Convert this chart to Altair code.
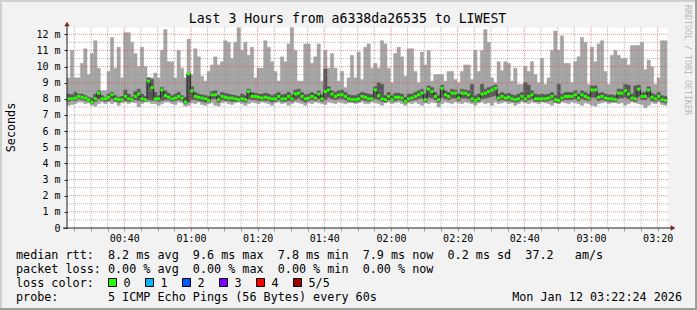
import altair as alt
import pandas as pd

FONT = "DejaVu Sans Mono"

# ---- data (milliseconds), one value per minute step ----
start_minute = 22.8          # minutes after 00:00 of the first step
step_minutes = 1.0

max_ms = [
    9.3, 11.0, 9.3, 9.3, 10.2, 11.1, 9.5, 10.8, 11.6, 9.9, 8.5, 8.5, 9.7, 11.8, 9.9, 11.2, 9.3, 12.1, 12.1, 11.5, 10.8, 10.0, 11.2, 10.0, 9.3, 9.3, 9.6, 9.3, 11.0, 12.3,
    10.3, 10.3, 9.3, 11.0, 9.9, 9.3, 11.7, 9.5, 11.1, 10.6, 9.4, 9.1, 9.7, 10.1, 10.6, 10.1, 10.3, 11.6, 11.5, 10.5, 11.5, 12.4, 11.0, 11.5, 10.7, 11.2, 9.3, 9.9, 9.9, 11.6,
    11.2, 10.3, 9.7, 9.1, 10.6, 10.3, 11.4, 12.4, 11.0, 9.1, 9.1, 11.4, 11.4, 10.2, 10.6, 11.4, 9.1, 11.0, 9.9, 10.8, 9.9, 9.1, 9.7, 8.7, 9.3, 10.7, 9.3, 10.9, 9.2, 11.2,
    11.4, 9.9, 10.2, 9.9, 11.6, 11.4, 9.9, 9.0, 10.8, 11.2, 10.6, 9.4, 11.1, 11.1, 9.7, 9.0, 10.9, 10.1, 11.0, 9.1, 9.5, 9.5, 9.5, 9.1, 9.7, 9.7, 9.2, 9.0, 9.7, 10.1,
    10.1, 9.2, 11.0, 9.7, 11.0, 12.3, 11.5, 9.3, 9.0, 10.3, 9.75, 10.3, 10.2, 9.1, 9.9, 8.9, 8.9, 10.0, 9.7, 10.3, 9.5, 9.0, 10.5, 8.9, 9.3, 11.0, 12.2, 11.0, 11.9, 10.2,
    10.2, 9.0, 10.3, 10.6, 11.8, 11.5, 8.9, 11.2, 10.3, 11.4, 11.6, 9.7, 8.9, 10.7, 11.0, 10.7, 10.5, 10.5, 10.1, 11.3, 11.3, 11.3, 11.5, 9.8, 10.4, 10.0, 8.9, 9.3, 11.6, 11.6,
]
p4_ms = [
    8.3, 8.25, 8.4, 8.3, 8.3, 8.2, 8.1, 8.05, 8.3, 8.5, 8.2, 8.1, 8.3, 8.4, 8.2, 8.1, 8.15, 8.55, 8.3, 8.1, 8.45, 8.6, 8.3, 8.15, 9.3, 9.2, 8.4, 8.2, 8.7, 8.5,
    8.35, 8.2, 8.3, 8.4, 8.2, 8.1, 9.6, 8.75, 8.4, 8.3, 8.25, 8.2, 8.15, 8.45, 8.5, 8.2, 8.4, 8.35, 8.3, 8.25, 8.2, 8.15, 8.3, 8.2, 8.6, 8.4, 8.35, 8.3, 8.3, 8.35,
    8.3, 8.2, 8.3, 8.4, 8.25, 8.3, 8.4, 8.25, 8.55, 8.6, 8.4, 8.25, 8.3, 8.4, 8.3, 8.5, 8.25, 9.85, 8.75, 8.5, 8.4, 8.5, 8.55, 8.4, 8.25, 8.2, 8.2, 8.3, 8.4, 8.35,
    8.3, 8.25, 8.75, 9.0, 8.9, 8.2, 8.4, 8.2, 8.35, 8.35, 8.3, 8.1, 8.3, 8.3, 8.4, 8.5, 8.6, 8.3, 8.8, 8.7, 8.4, 8.2, 8.85, 8.5, 8.4, 8.6, 8.55, 8.3, 8.6, 8.55,
    8.5, 8.9, 8.2, 8.3, 8.9, 8.6, 8.7, 8.75, 8.85, 8.3, 8.4, 8.3, 8.35, 8.25, 8.2, 8.3, 8.4, 9.0, 8.85, 8.5, 8.3, 8.25, 8.3, 8.25, 8.3, 8.4, 8.2, 8.9, 8.3, 8.4,
    8.4, 8.4, 8.5, 8.3, 8.5, 8.4, 8.3, 8.8, 8.8, 8.35, 8.4, 8.3, 8.25, 8.25, 8.2, 8.6, 8.6, 8.9, 8.85, 8.3, 8.8, 8.85, 8.4, 8.4, 8.75, 8.35, 8.25, 8.4, 8.2, 8.15,
]
median_ms = [
    8.0, 8.0, 8.05, 8.15, 8.1, 8.05, 7.95, 7.8, 8.0, 8.35, 8.0, 8.0, 8.1, 8.25, 8.0, 7.95, 7.95, 8.15, 8.0, 7.95, 8.15, 8.3, 8.0, 7.95, 9.1, 8.7, 8.0, 8.0, 8.55, 8.2,
    8.1, 8.0, 8.05, 8.15, 8.05, 7.8, 9.55, 8.5, 8.15, 8.1, 8.05, 8.0, 7.9, 8.25, 8.25, 7.95, 8.15, 8.1, 8.05, 8.05, 8.0, 7.95, 8.0, 7.95, 8.45, 8.15, 8.15, 8.1, 8.05, 8.1,
    8.05, 8.0, 8.0, 8.15, 8.0, 8.0, 8.15, 8.0, 8.3, 8.35, 8.15, 8.0, 8.05, 8.15, 8.05, 8.3, 8.0, 8.45, 8.55, 8.3, 8.15, 8.25, 8.25, 8.15, 8.0, 7.95, 7.95, 8.0, 8.15, 8.1,
    8.0, 8.0, 8.55, 8.2, 8.0, 7.95, 8.15, 7.95, 8.1, 8.1, 8.05, 7.85, 8.0, 8.05, 8.15, 8.25, 8.35, 7.95, 8.6, 8.45, 8.15, 7.95, 8.65, 8.25, 8.15, 8.35, 8.35, 8.05, 8.35, 8.35,
    8.25, 8.0, 7.9, 8.0, 8.3, 8.35, 8.45, 8.55, 8.65, 8.05, 8.15, 8.05, 8.1, 8.0, 7.95, 8.0, 8.15, 8.0, 8.15, 8.25, 8.0, 8.0, 8.0, 8.0, 8.05, 8.15, 7.95, 7.9, 8.05, 8.15,
    8.15, 8.15, 8.25, 8.05, 8.25, 8.15, 8.05, 8.55, 8.55, 8.1, 8.15, 8.05, 8.0, 8.0, 7.95, 8.35, 8.35, 8.5, 8.3, 8.05, 8.0, 8.6, 8.15, 8.15, 8.55, 8.1, 8.0, 8.15, 7.95, 7.9,
]
p2_ms = [
    7.85, 7.9, 7.9, 8.0, 7.95, 7.9, 7.85, 7.7, 7.85, 8.0, 7.9, 7.85, 7.9, 8.0, 7.85, 7.8, 7.85, 7.9, 7.85, 7.85, 7.95, 7.9, 7.85, 7.85, 7.95, 7.9, 7.9, 7.85, 7.9, 7.95,
    7.95, 7.85, 7.9, 7.95, 7.9, 7.7, 7.8, 7.95, 7.95, 7.9, 7.85, 7.8, 7.8, 8.0, 8.0, 7.8, 7.95, 7.9, 7.9, 7.85, 7.85, 7.85, 7.85, 7.8, 8.0, 7.95, 7.95, 7.9, 7.9, 7.9,
    7.9, 7.8, 7.85, 7.95, 7.85, 7.85, 7.9, 7.85, 7.95, 8.05, 7.9, 7.8, 7.9, 7.95, 7.9, 8.0, 7.85, 7.95, 8.1, 8.0, 7.95, 8.0, 8.0, 7.95, 7.85, 7.8, 7.8, 7.85, 7.95, 7.9,
    7.85, 7.9, 8.0, 7.95, 7.85, 7.8, 7.95, 7.85, 7.9, 7.95, 7.9, 7.75, 7.85, 7.9, 7.95, 8.0, 8.05, 7.8, 8.1, 8.05, 7.95, 7.8, 8.1, 8.0, 7.95, 8.05, 8.05, 7.9, 8.05, 8.05,
    8.0, 7.85, 7.8, 7.85, 8.0, 8.05, 8.1, 8.15, 8.2, 7.9, 7.95, 7.9, 7.9, 7.85, 7.8, 7.85, 7.95, 7.85, 7.95, 8.0, 7.85, 7.85, 7.85, 7.85, 7.9, 7.95, 7.8, 7.75, 7.9, 7.95,
    7.95, 7.95, 8.0, 7.9, 8.0, 7.95, 7.9, 8.1, 8.1, 7.9, 7.95, 7.9, 7.85, 7.85, 7.8, 8.05, 8.05, 8.1, 8.0, 7.9, 7.85, 8.15, 7.95, 7.95, 8.1, 7.9, 7.85, 7.95, 7.8, 7.75,
]
min_ms = [
    7.6, 7.65, 7.7, 7.8, 7.8, 7.7, 7.75, 7.6, 7.55, 7.7, 7.8, 7.7, 7.8, 7.7, 7.8, 7.6, 7.75, 7.8, 7.7, 7.8, 7.75, 7.5, 7.7, 7.8, 7.8, 7.7, 7.7, 7.6, 7.7, 7.8,
    7.8, 7.7, 7.65, 7.8, 7.75, 7.55, 7.6, 7.75, 7.7, 7.8, 7.65, 7.6, 7.7, 7.75, 7.6, 7.55, 7.75, 7.8, 7.7, 7.65, 7.75, 7.8, 7.7, 7.6, 7.7, 7.8, 7.75, 7.7, 7.8, 7.75,
    7.7, 7.6, 7.75, 7.8, 7.7, 7.75, 7.6, 7.7, 7.8, 7.75, 7.7, 7.6, 7.75, 7.7, 7.8, 7.75, 7.7, 7.65, 7.8, 7.75, 7.7, 7.8, 7.75, 7.7, 7.75, 7.8, 7.7, 7.75, 7.8, 7.7,
    7.7, 7.8, 7.75, 7.7, 7.6, 7.75, 7.8, 7.7, 7.75, 7.8, 7.7, 7.6, 7.75, 7.7, 7.8, 7.7, 7.6, 7.75, 7.7, 7.8, 7.75, 7.5, 7.7, 7.8, 7.75, 7.7, 7.8, 7.75, 7.7, 7.8,
    7.75, 7.7, 7.6, 7.75, 7.8, 7.7, 7.75, 7.6, 7.8, 7.7, 7.75, 7.8, 7.7, 7.75, 7.6, 7.7, 7.8, 7.75, 7.7, 7.8, 7.75, 7.7, 7.8, 7.75, 7.7, 7.6, 7.75, 7.7, 7.8, 7.75,
    7.7, 7.8, 7.75, 7.7, 7.6, 7.75, 7.7, 7.6, 7.55, 7.7, 7.75, 7.8, 7.7, 7.75, 7.8, 7.7, 7.75, 7.6, 7.7, 7.8, 7.75, 7.7, 7.65, 7.45, 7.6, 7.75, 7.7, 7.8, 7.65, 7.6,
]

x_major = [40, 60, 80, 100, 120, 140, 160, 180, 200]
x_minor = [25, 30, 35, 45, 50, 55, 65, 70, 75, 85, 90, 95, 105, 110, 115, 125, 130, 135,
           145, 150, 155, 165, 170, 175, 185, 190, 195]
y_major = [1, 2, 3, 4, 5, 6, 7, 8, 9, 10, 11, 12]
y_minor = [0.5, 1.5, 2.5, 3.5, 4.5, 5.5, 6.5, 7.5, 8.5, 9.5, 10.5, 11.5]

loss_labels = ["0", "1", "2", "3", "4", "5/5"]
loss_colors = ["#26ff00", "#00b8ff", "#0059ff", "#7e00ff", "#ff0000", "#a10000"]

title_text = "Last 3 Hours from a6338da26535 to LIWEST"
legend_rtt = "median rtt:  8.2 ms avg  9.6 ms max  7.8 ms min  7.9 ms now  0.2 ms sd  37.2   am/s"
legend_loss = "packet loss: 0.00 % avg  0.00 % max  0.00 % min  0.00 % now"
legend_color = "loss color:"
legend_probe = "probe:       5 ICMP Echo Pings (56 Bytes) every 60s"
stamp_text = "Mon Jan 12 03:22:24 2026"
side_text = "RRDTOOL / TOBI OETIKER"

# ---- table ----
n = len(median_ms)
df = pd.DataFrame({
    "t": [start_minute + i * step_minutes for i in range(n)],
    "t_end": [start_minute + (i + 1) * step_minutes for i in range(n)],
    "mx": max_ms, "p4": p4_ms, "med": median_ms, "p2": p2_ms, "mn": min_ms,
})

W, H = 600, 201
xscale = alt.Scale(domain=[22.8, 202.8], nice=False, zero=False)
yscale = alt.Scale(domain=[0, 12.45], nice=False, zero=False)

xaxis = alt.Axis(
    values=sorted(x_major + x_minor),
    labelExpr="datum.value % 20 == 0 ? utcFormat(datum.value * 60000, '%H:%M') : ''",
    title=None, domain=False, grid=False, tickSize=3, tickColor="#9e9e9e",
    labelFont=FONT, labelFontSize=10, labelColor="black", labelPadding=2,
    labelOverlap=False, labelFlush=False,
)
yaxis = alt.Axis(
    values=[0] + y_major,
    labelExpr="datum.value == 0 ? '0\u00a0\u00a0' : datum.value + ' m'",
    title=None, domain=False, grid=False, tickSize=3, tickColor="#1f1f1f",
    labelFont=FONT, labelFontSize=10, labelColor="black", labelPadding=4,
    labelOverlap=False, labelFlush=False,
)


def X(field):
    return alt.X(field, type="quantitative", scale=xscale, axis=xaxis)


def Y(field):
    return alt.Y(field, type="quantitative", scale=yscale, axis=yaxis)


light = alt.Chart(df).mark_rect(color="#a4a4a4", stroke="#a4a4a4", strokeWidth=0.5).encode(
    x=X("t"), x2="t_end:Q", y=Y("mn"), y2="mx:Q")
dark = alt.Chart(df).mark_rect(color="#585858", stroke="#585858", strokeWidth=0.5).encode(
    x=X("t"), x2="t_end:Q", y=Y("p2"), y2="p4:Q")

vminor = alt.Chart(pd.DataFrame({"v": x_minor})).mark_rule(
    color="#8f8f8f", opacity=0.6, strokeDash=[1, 1], strokeWidth=1).encode(
    x=X("v"), y=alt.value(0), y2=alt.value(H))
vmajor = alt.Chart(pd.DataFrame({"v": x_major})).mark_rule(
    color="#de4f4f", opacity=0.6, strokeDash=[1, 1], strokeWidth=1).encode(
    x=X("v"), y=alt.value(0), y2=alt.value(H))
hminor = alt.Chart(pd.DataFrame({"v": y_minor})).mark_rule(
    color="#8f8f8f", opacity=0.6, strokeDash=[1, 1], strokeWidth=1).encode(
    y=Y("v"), x=alt.value(0), x2=alt.value(W + 2))
hmajor = alt.Chart(pd.DataFrame({"v": y_major})).mark_rule(
    color="#de4f4f", opacity=0.6, strokeDash=[1, 1], strokeWidth=1).encode(
    y=Y("v"), x=alt.value(0), x2=alt.value(W + 2))

med_line = alt.Chart(df).mark_line(interpolate="step-after", color="#202020", strokeWidth=1).encode(
    x=X("t"), y=Y("med"))
med_bar = alt.Chart(df).transform_calculate(
    lo="datum.med - 0.09", hi="datum.med + 0.09"
).mark_rect(color=loss_colors[0]).encode(
    x=X("t"), x2="t_end:Q", y=Y("lo:Q"), y2="hi:Q")

one = pd.DataFrame({"k": [0]})
xaxis_line = alt.Chart(one).mark_rule(color="#1f1f1f", strokeWidth=1).encode(
    x=alt.value(-4), x2=alt.value(W + 5), y=alt.value(H))
yaxis_line = alt.Chart(one).mark_rule(color="#1f1f1f", strokeWidth=1).encode(
    x=alt.value(0), y=alt.value(-2), y2=alt.value(H))
arrow_x = alt.Chart(one).mark_point(shape="triangle-right", filled=True, color="#801f1f", size=28, opacity=1).encode(
    x=alt.value(W + 6), y=alt.value(H))
arrow_y = alt.Chart(one).mark_point(shape="triangle-up", filled=True, color="#801f1f", size=28, opacity=1).encode(
    x=alt.value(0), y=alt.value(-3))


def txt(s, x, y, size=11.75, align="left", angle=0, color="black"):
    return alt.Chart(pd.DataFrame({"s": [s.replace(" ", "\u00a0")]})).mark_text(
        align=align, baseline="middle", font=FONT, fontSize=size, color=color, angle=angle
    ).encode(x=alt.value(x), y=alt.value(y), text="s:N")


OX, OY = 67, 27   # plot-area origin in page pixels
texts = [
    txt(title_text, 347.5 - OX, 19 - OY, size=13.2, align="center"),
    txt("Seconds", 11 - OX, 127.5 - OY, align="center", angle=270),
    txt(side_text, 686.5 - OX, 60 - OY, size=8.3, align="center", angle=90, color="#b8b8b8"),
    txt(legend_rtt, 16 - OX, 254.5 - OY),
    txt(legend_loss, 16 - OX, 268.5 - OY),
    txt(legend_color, 16 - OX, 282.5 - OY),
    txt(legend_probe, 16 - OX, 296.5 - OY),
    txt(stamp_text, 682 - OX, 296.5 - OY, align="right"),
]
swatches = []
for k, (lab, col) in enumerate(zip(loss_labels, loss_colors)):
    x0 = 108.5 + 37.0 * k - OX
    swatches.append(alt.Chart(one).mark_rect(fill=col, stroke="black", strokeWidth=1).encode(
        x=alt.value(x0), x2=alt.value(x0 + 8), y=alt.value(278.5 - OY), y2=alt.value(286.5 - OY)))
    swatches.append(txt(lab, x0 + 15, 282.5 - OY))

# frame (shade A top/left, shade B bottom/right)
frame = [
    alt.Chart(one).mark_rule(color="#cfcfcf", strokeWidth=2).encode(
        x=alt.value(-OX), x2=alt.value(697 - OX), y=alt.value(1 - OY)),
    alt.Chart(one).mark_rule(color="#cfcfcf", strokeWidth=2).encode(
        x=alt.value(1 - OX), y=alt.value(-OY), y2=alt.value(310 - OY)),
    alt.Chart(one).mark_rule(color="#9e9e9e", strokeWidth=2).encode(
        x=alt.value(-OX), x2=alt.value(697 - OX), y=alt.value(309 - OY)),
    alt.Chart(one).mark_rule(color="#9e9e9e", strokeWidth=2).encode(
        x=alt.value(696 - OX), y=alt.value(-OY), y2=alt.value(310 - OY)),
]

chart = alt.layer(
    light, dark, vminor, hminor, vmajor, hmajor, med_line, med_bar,
    xaxis_line, yaxis_line, arrow_x, arrow_y, *texts, *swatches, *frame
).properties(
    width=W, height=H,
    padding={"left": OX, "top": OY, "right": 697 - OX - W, "bottom": 310 - OY - H},
    autosize=alt.AutoSizeParams(type="none"),
    background="#f2f2f2",
).configure_view(fill="white", stroke="transparent")

chart.save("out.html", embed_options={"renderer": "svg", "actions": False})
